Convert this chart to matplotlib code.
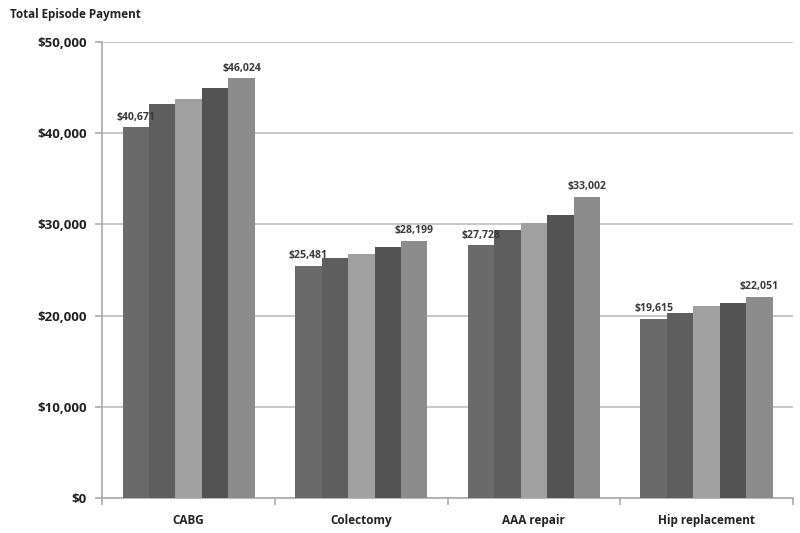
import matplotlib
matplotlib.use("Agg")
import matplotlib.pyplot as plt
import numpy as np
from matplotlib.ticker import FuncFormatter, FixedLocator

categories = ["CABG", "Colectomy", "AAA repair", "Hip replacement"]
series = [
    [40671, 25481, 27728, 19615],
    [43200, 26350, 29350, 20250],
    [43750, 26700, 30120, 21090],
    [45000, 27490, 31000, 21410],
    [46024, 28199, 33002, 22051],
]
colors = ["#6a6a6a", "#5e5e5e", "#a0a0a0", "#535353", "#8c8c8c"]

plt.rcParams["font.family"] = ["Open Sans", "DejaVu Sans"]

fig = plt.figure(figsize=(8, 5.33), dpi=100)
ax = fig.add_axes([0.128, 0.066, 0.863, 0.855])

x = np.arange(len(categories))
width = 0.153
n = len(series)
for i, (vals, col) in enumerate(zip(series, colors)):
    pos = x + (i - (n - 1) / 2) * width
    ax.bar(pos, vals, width=width, color=col, zorder=3)
    # only first and last year get a value label
    if i == 0 or i == n - 1:
        for px, v in zip(pos, vals):
            ax.text(px, v + 500, f"${v:,}", ha="center", va="bottom",
                    fontsize=7.6, fontweight="bold", color="#3a3a3a", zorder=4)

ax.set_ylim(0, 50000)
ax.set_xlim(-0.5, len(categories) - 0.5)
ax.set_yticks(range(0, 50001, 10000))
ax.yaxis.set_major_formatter(FuncFormatter(lambda v, _: f"${int(v):,}"))
ax.grid(axis="y", color="#bdbdbd", linewidth=1.2, zorder=0)

ax.set_xticks(x)
ax.set_xticklabels(categories, fontsize=8.5, fontweight="bold", color="#222222")
ax.tick_params(axis="x", length=0, pad=12)
ax.xaxis.set_minor_locator(FixedLocator(np.arange(-0.5, len(categories), 1.0)))
ax.tick_params(axis="x", which="minor", length=5, color="#aaaaaa", width=1.2)
for lab in ax.get_yticklabels():
    lab.set_fontweight("bold")
ax.tick_params(axis="y", length=5, color="#aaaaaa", width=1.2, labelsize=9.5,
               labelcolor="#222222", pad=6)

for s in ["top", "right"]:
    ax.spines[s].set_visible(False)
for s in ["left", "bottom"]:
    ax.spines[s].set_color("#aaaaaa")
    ax.spines[s].set_linewidth(1.2)

fig.text(0.012, 0.972, "Total Episode Payment", fontsize=8.4, fontweight="bold",
         color="#222222", ha="left", va="center")

fig.savefig("out.png", dpi=100)
